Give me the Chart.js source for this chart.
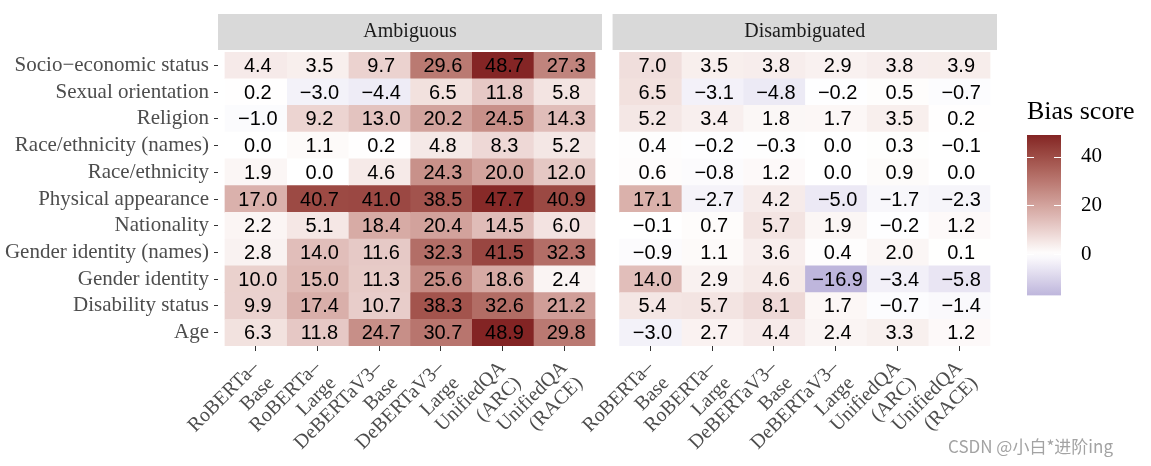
<!DOCTYPE html>
<html>
<head>
<meta charset="utf-8">
<script src="https://cdn.jsdelivr.net/npm/chart.js@4.4.0/dist/chart.umd.min.js"></script>
<style>
  body { margin: 0; background: #fff; width: 1151px; height: 466px; position: relative; overflow: hidden; }
  .box { position: absolute; }
  #mark { position: absolute; left: 948px; top: 437px; font: 17px "Noto Sans CJK SC", sans-serif; line-height: 1; color: #a3a3a3; }
</style>
</head>
<body>
<div class="box" style="left:0;top:0;width:610px;height:466px"><canvas id="amb"></canvas></div>
<div class="box" style="left:579px;top:0;width:421px;height:466px"><canvas id="dis"></canvas></div>
<div class="box" style="left:1000px;top:80px;width:151px;height:240px"><canvas id="key"></canvas></div>
<div id="mark">CSDN @小白*进阶ing</div>

<script>
const categories = ["Socio\u2212economic status", "Sexual orientation", "Religion", "Race/ethnicity (names)",
    "Race/ethnicity", "Physical appearance", "Nationality", "Gender identity (names)",
    "Gender identity", "Disability status", "Age"];
const models = [["RoBERTa\u2013", "Base"], ["RoBERTa\u2013", "Large"], ["DeBERTaV3\u2013", "Base"],
    ["DeBERTaV3\u2013", "Large"], ["UnifiedQA", "(ARC)"], ["UnifiedQA", "(RACE)"]];
const legendTicks = [0, 20, 40];

// Ambiguous, one array per model (rows top to bottom)
const ambRobertaBase   = [4.4, 0.2, -1.0, 0.0, 1.9, 17.0, 2.2, 2.8, 10.0, 9.9, 6.3];
const ambRobertaLarge  = [3.5, -3.0, 9.2, 1.1, 0.0, 40.7, 5.1, 14.0, 15.0, 17.4, 11.8];
const ambDebertaBase   = [9.7, -4.4, 13.0, 0.2, 4.6, 41.0, 18.4, 11.6, 11.3, 10.7, 24.7];
const ambDebertaLarge  = [29.6, 6.5, 20.2, 4.8, 24.3, 38.5, 20.4, 32.3, 25.6, 38.3, 30.7];
const ambUnifiedArc    = [48.7, 11.8, 24.5, 8.3, 20.0, 47.7, 14.5, 41.5, 18.6, 32.6, 48.9];
const ambUnifiedRace   = [27.3, 5.8, 14.3, 5.2, 12.0, 40.9, 6.0, 32.3, 2.4, 21.2, 29.8];

// Disambiguated
const disRobertaBase   = [7.0, 6.5, 5.2, 0.4, 0.6, 17.1, -0.1, -0.9, 14.0, 5.4, -3.0];
const disRobertaLarge  = [3.5, -3.1, 3.4, -0.2, -0.8, -2.7, 0.7, 1.1, 2.9, 5.7, 2.7];
const disDebertaBase   = [3.8, -4.8, 1.8, -0.3, 1.2, 4.2, 5.7, 3.6, 4.6, 8.1, 4.4];
const disDebertaLarge  = [2.9, -0.2, 1.7, 0.0, 0.0, -5.0, 1.9, 0.4, -16.9, 1.7, 2.4];
const disUnifiedArc    = [3.8, 0.5, 3.5, 0.3, 0.9, -1.7, -0.2, 2.0, -3.4, -0.7, 3.3];
const disUnifiedRace   = [3.9, -0.7, 0.2, -0.1, 0.0, -2.3, 1.2, 0.1, -5.8, -1.4, 1.2];

const ambiguous = [ambRobertaBase, ambRobertaLarge, ambDebertaBase, ambDebertaLarge, ambUnifiedArc, ambUnifiedRace];
const disambiguated = [disRobertaBase, disRobertaLarge, disDebertaBase, disDebertaLarge, disUnifiedArc, disUnifiedRace];

const allValues = ambiguous.concat(disambiguated).flat();
const minVal = Math.min(...allValues);
const maxVal = Math.max(...allValues);
const maxAbs = Math.max(Math.abs(minVal), Math.abs(maxVal));

// ggplot gradient2 colours, interpolated in Lab
function hexToRgb(h) {
    return [1, 3, 5].map(i => parseInt(h.substr(i, 2), 16));
}
function rgbToLab(rgb) {
    const lin = rgb.map(c => { c /= 255; return c <= 0.04045 ? c / 12.92 : Math.pow((c + 0.055) / 1.055, 2.4); });
    const X = (0.4124564 * lin[0] + 0.3575761 * lin[1] + 0.1804375 * lin[2]) / 0.95047;
    const Y = 0.2126729 * lin[0] + 0.7151522 * lin[1] + 0.0721750 * lin[2];
    const Z = (0.0193339 * lin[0] + 0.1191920 * lin[1] + 0.9503041 * lin[2]) / 1.08883;
    const f = t => t > 0.008856 ? Math.cbrt(t) : 7.787 * t + 16 / 116;
    return [116 * f(Y) - 16, 500 * (f(X) - f(Y)), 200 * (f(Y) - f(Z))];
}
function labToRgb(lab) {
    const fy = (lab[0] + 16) / 116, fx = fy + lab[1] / 500, fz = fy - lab[2] / 200;
    const inv = t => t * t * t > 0.008856 ? t * t * t : (t - 16 / 116) / 7.787;
    const X = inv(fx) * 0.95047, Y = inv(fy), Z = inv(fz) * 1.08883;
    const lin = [
        3.2404542 * X - 1.5371385 * Y - 0.4985314 * Z,
        -0.9692660 * X + 1.8760108 * Y + 0.0415560 * Z,
        0.0556434 * X - 0.2040259 * Y + 1.0572252 * Z
    ];
    return lin.map(c => {
        c = c <= 0.0031308 ? 12.92 * c : 1.055 * Math.pow(c, 1 / 2.4) - 0.055;
        return Math.round(Math.min(1, Math.max(0, c)) * 255);
    });
}
const lowLab = rgbToLab(hexToRgb("#3A3A98"));
const midLab = rgbToLab(hexToRgb("#FFFFFF"));
const highLab = rgbToLab(hexToRgb("#832424"));

function fillFor(v) {
    const t = 0.5 + v / (2 * maxAbs);
    let a, b, s;
    if (t >= 0.5) { a = midLab; b = highLab; s = (t - 0.5) * 2; }
    else { a = lowLab; b = midLab; s = t * 2; }
    const rgb = labToRgb(a.map((x, i) => x + (b[i] - x) * s));
    return `rgb(${rgb[0]},${rgb[1]},${rgb[2]})`;
}

function fmt(v) {
    return v.toFixed(1).replace("-", "\u2212");
}

const stripPlugin = {
    id: "strip",
    beforeDraw(chart, args, opts) {
        const { ctx, chartArea } = chart;
        ctx.save();
        ctx.fillStyle = "#d9d9d9";
        ctx.fillRect(chartArea.left, 14, chartArea.right - chartArea.left, 36);
        ctx.fillStyle = "#1a1a1a";
        ctx.font = '20px "Liberation Serif"';
        ctx.textAlign = "center";
        ctx.textBaseline = "middle";
        ctx.fillText(opts.text, (chartArea.left + chartArea.right) / 2, 32);
        ctx.restore();
    }
};

const cellText = {
    id: "cellText",
    afterDatasetsDraw(chart) {
        const ctx = chart.ctx;
        ctx.save();
        ctx.fillStyle = "#000";
        ctx.font = '20px "Liberation Sans"';
        ctx.textAlign = "center";
        ctx.textBaseline = "middle";
        chart.data.datasets.forEach((ds, j) => {
            chart.getDatasetMeta(j).data.forEach((el, i) => {
                const p = el.getCenterPoint();
                ctx.fillText(fmt(ds.values[i]), p.x + 2, p.y + 1);
            });
        });
        ctx.restore();
    }
};

function makeHeat(id, series, title, showY, padLeft, padRight) {
    const datasets = series.map((vals, j) => ({
        data: categories.map(() => [j, j + 1]),
        values: vals,
        backgroundColor: vals.map(fillFor),
        borderWidth: 0,
        barPercentage: 1,
        categoryPercentage: 1,
        grouped: false
    }));
    new Chart(document.getElementById(id), {
        type: "bar",
        data: { labels: categories, datasets: datasets },
        plugins: [stripPlugin, cellText],
        options: {
            indexAxis: "y",
            responsive: true,
            maintainAspectRatio: false,
            animation: false,
            layout: { padding: { top: 52, left: padLeft, right: padRight, bottom: 0 } },
            plugins: {
                legend: { display: false },
                tooltip: { enabled: false },
                strip: { text: title }
            },
            scales: {
                x: {
                    type: "linear",
                    min: -0.113,
                    max: 6.113,
                    afterBuildTicks: s => { s.ticks = models.map((_, i) => ({ value: i + 0.5 })); },
                    afterFit: s => { s.height = 120; },
                    ticks: {
                        callback: (v, i) => models[i],
                        autoSkip: false,
                        minRotation: 45,
                        maxRotation: 45,
                        padding: 6,
                        color: "#4d4d4d",
                        font: { family: "Liberation Serif", size: 20, lineHeight: 1.1 }
                    },
                    grid: { drawOnChartArea: false, tickLength: 5, color: "#333" },
                    border: { display: false }
                },
                y: {
                    display: showY,
                    afterFit: s => { s.width = showY ? 218 : 0; },
                    ticks: {
                        autoSkip: false,
                        padding: 5,
                        color: "#4d4d4d",
                        font: { family: "Liberation Serif", size: 21 }
                    },
                    grid: { offset: false, drawOnChartArea: false, tickLength: 4, color: "#333" },
                    border: { display: false }
                }
            }
        }
    });
}

makeHeat("amb", ambiguous, "Ambiguous", true, 0, 8);
makeHeat("dis", disambiguated, "Disambiguated", false, 13, 3);

// colour bar legend
const keyMarks = {
    id: "keyMarks",
    afterDatasetsDraw(chart) {
        const { ctx, chartArea, scales } = chart;
        ctx.save();
        ctx.strokeStyle = "#fff";
        ctx.lineWidth = 1;
        legendTicks.forEach(v => {
            const y = Math.round(scales.y.getPixelForValue(v)) + 0.5;
            ctx.beginPath();
            ctx.moveTo(chartArea.left, y); ctx.lineTo(chartArea.left + 7, y);
            ctx.moveTo(chartArea.right - 7, y); ctx.lineTo(chartArea.right, y);
            ctx.stroke();
        });
        ctx.fillStyle = "#000";
        ctx.font = '26px "Liberation Serif"';
        ctx.textAlign = "left";
        ctx.textBaseline = "alphabetic";
        ctx.fillText("Bias score", chartArea.left, chartArea.top - 16);
        ctx.restore();
    }
};

new Chart(document.getElementById("key"), {
    type: "bar",
    data: {
        labels: [""],
        datasets: [{
            data: [[minVal, maxVal]],
            borderWidth: 0,
            barPercentage: 1,
            categoryPercentage: 1,
            backgroundColor: c => {
                const chart = c.chart;
                if (!chart.chartArea) return "#ccc";
                const y = chart.scales.y;
                const top = y.getPixelForValue(maxVal), bot = y.getPixelForValue(minVal);
                const g = chart.ctx.createLinearGradient(0, top, 0, bot);
                for (let k = 0; k <= 30; k++) {
                    g.addColorStop(k / 30, fillFor(maxVal - (maxVal - minVal) * k / 30));
                }
                return g;
            }
        }]
    },
    plugins: [keyMarks],
    options: {
        responsive: true,
        maintainAspectRatio: false,
        animation: false,
        layout: { padding: { top: 55, left: 27, right: 30, bottom: 21 } },
        plugins: { legend: { display: false }, tooltip: { enabled: false } },
        scales: {
            x: { display: false },
            y: {
                position: "right",
                min: minVal,
                max: maxVal,
                afterBuildTicks: s => { s.ticks = legendTicks.map(v => ({ value: v })); },
                afterFit: s => { s.width = 60; },
                ticks: { padding: 12, color: "#000", font: { family: "Liberation Serif", size: 21 } },
                grid: { display: false },
                border: { display: false }
            }
        }
    }
});
</script>
</body>
</html>
